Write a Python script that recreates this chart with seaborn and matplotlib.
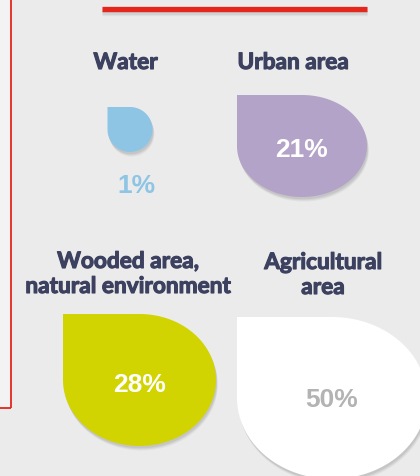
import numpy as np
import pandas as pd
import matplotlib
matplotlib.use("Agg")
import matplotlib.pyplot as plt
import matplotlib.patheffects as pe
from matplotlib.patches import Polygon, Rectangle
import seaborn as sns

# ---------------- data ----------------
categories = ["Water", "Urban area", "Wooded area,\nnatural environment", "Agricultural\narea"]
shares = [1, 21, 28, 50]
share_labels = [f"{v}%" for v in shares]

# ---------------- layout / style (pixel coordinates, y down) ----------------
shape_x0 = [107.5, 237, 63, 237]
shape_y0 = [107, 95, 314, 317]
shape_w = [45, 130, 153, 190]
shape_h = [45, 102, 132, 162]
shape_colors = ["#8ec5e5", "#b4a3c8", "#d1d400", "#ffffff"]
value_colors = ["#8ec5e5", "#ffffff", "#ffffff", "#b3b3b3"]
value_x = [136, 301.5, 139.5, 332]
value_base = [193, 157, 392, 407]
title_x = [125.5, 293, 128, 323]
title_base = [69, 69, 268, 269]
line_step = 25

df = pd.DataFrame({"category": categories, "share": shares, "label": share_labels})

sns.set_theme(style="white")
plt.rcParams["font.family"] = ["Lato", "DejaVu Sans"]

W, H = 420, 476
fig = plt.figure(figsize=(W / 100, H / 100), dpi=100)
bg = "#ebebeb"
fig.patch.set_facecolor(bg)
ax = fig.add_axes([0, 0, 1, 1])
ax.set_facecolor(bg)
ax.set_xlim(0, W)
ax.set_ylim(H, 0)
ax.axis("off")

# left decoration
ax.add_patch(Rectangle((0, 0), 10.5, 407.5, facecolor="#f3f3f3", edgecolor="none"))
red = "#e5261b"
ax.plot([10.5, 10.5], [0, 407.5], color=red, lw=1.3, solid_capstyle="butt")
ax.plot([0, 10.5], [407.5, 407.5], color=red, lw=1.3, solid_capstyle="butt")

soft_line_shadow = [pe.SimpleLineShadow(offset=(0.3, -o), alpha=a, shadow_color="#666666")
                    for o, a in [(3.0, 0.08), (2.2, 0.1), (1.4, 0.12)]]
# top red bar
ax.plot([102, 367], [8.5, 8.5], color=red, lw=3.8, solid_capstyle="butt",
        path_effects=soft_line_shadow + [pe.Normal()])


def drop_path(x0, y0, w, h, n=160):
    t = np.linspace(-np.pi / 2, np.pi, n)
    xs = x0 + w / 2 + w / 2 * np.cos(t)
    ys = y0 + h / 2 + h / 2 * np.sin(t)
    return np.column_stack([np.r_[x0, xs], np.r_[y0, ys]])


soft_patch_shadow = [pe.SimplePatchShadow(offset=(0.4 * o, -o), alpha=a, shadow_rgbFace="#555555")
                     for o, a in [(3.2, 0.07), (2.4, 0.09), (1.6, 0.11)]]
title_color = "#3d4160"

for i, row in df.iterrows():
    poly = Polygon(drop_path(shape_x0[i], shape_y0[i], shape_w[i], shape_h[i]),
                   closed=True, facecolor=shape_colors[i], edgecolor="none")
    poly.set_path_effects(soft_patch_shadow + [pe.Normal()])
    ax.add_patch(poly)
    ax.text(value_x[i], value_base[i], row["label"], ha="center", va="baseline",
            fontsize=19, fontweight="bold", color=value_colors[i],
            family=["Liberation Sans", "DejaVu Sans"])
    for k, line in enumerate(row["category"].split("\n")):
        ax.text(title_x[i], title_base[i] + k * line_step, line, ha="center", va="baseline",
                fontsize=16.3, fontweight="bold", color=title_color,
                path_effects=[pe.withStroke(linewidth=0.8, foreground=title_color)])

fig.savefig("out.png", dpi=100, facecolor=bg)
